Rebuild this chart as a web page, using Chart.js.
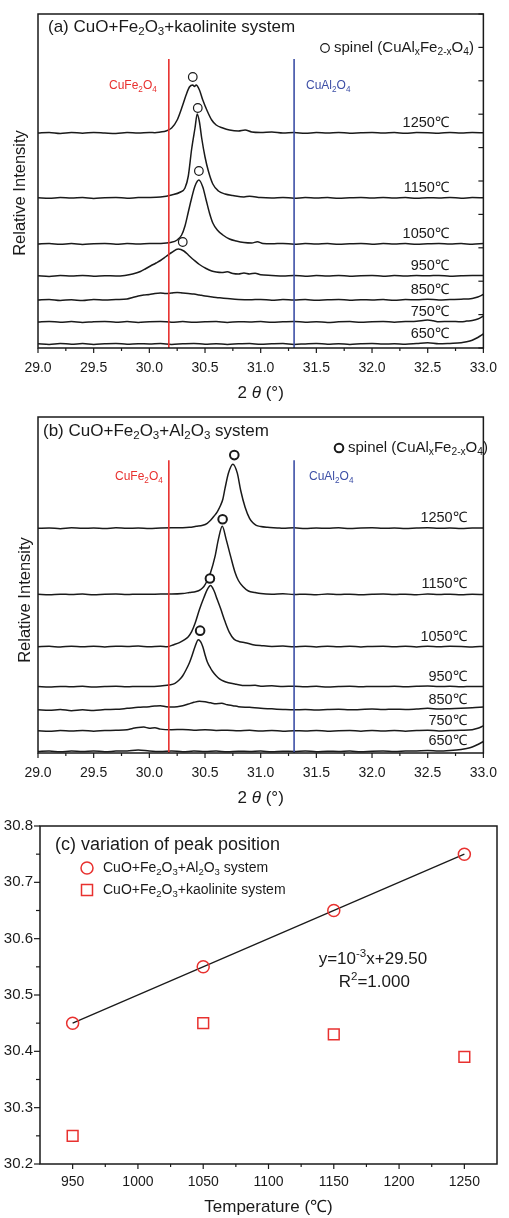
<!DOCTYPE html>
<html>
<head>
<meta charset="utf-8">
<script src="https://cdn.jsdelivr.net/npm/chart.js@4.4.1/dist/chart.umd.min.js"></script>
<style>
html, body { margin: 0; padding: 0; background: #fff; }
#wrap { position: relative; width: 509px; height: 1218px; overflow: hidden; }
canvas { position: absolute; left: 0; }
</style>
</head>
<body>
<div id="wrap">
  <canvas id="chartA" width="509" height="405" style="top:0"></canvas>
  <canvas id="chartB" width="509" height="405" style="top:405px"></canvas>
  <canvas id="chartC" width="509" height="408" style="top:810px"></canvas>
</div>
<script>
// ---- data ----
var temps = ['650', '750', '850', '950', '1050', '1150', '1250'];
// stacking offset of each pattern (same order as temps)
var offsetA = [4, 26, 48, 72, 104, 150, 215];
var offsetB = [1.5, 22, 43, 66, 106, 158, 224];
var refCuFe2O4 = 30.175;
var refCuAl2O4 = 31.30;
var thetaTicks = [29.0, 29.5, 30.0, 30.5, 31.0, 31.5, 32.0, 32.5, 33.0];

// (a) CuO+Fe2O3+kaolinite, [2theta, intensity]
var a650 = [[29.0,0.3],[29.1,-0.4],[29.2,0.5],[29.3,-0.2],[29.4,0.4],[29.5,-0.5],[29.6,0.2],[29.7,0.6],[29.8,-0.3],[29.9,0.3],[30.0,0],[30.1,0.5],[30.2,-0.4],[30.3,0.2],[30.4,0.6],[30.5,-0.2],[30.6,0.3],[30.7,-0.4],[30.8,0.2],[30.9,0.5],[31.0,-0.3],[31.1,0.2],[31.2,0.5],[31.3,-0.4],[31.4,0.1],[31.5,0.5],[31.6,-0.2],[31.7,0.3],[31.8,-0.5],[31.9,0.2],[32.0,0.6],[32.1,-0.1],[32.2,0.3],[32.3,-0.3],[32.4,0.4],[32.5,1.2],[32.6,0.2],[32.7,0.6],[32.8,1.2],[32.85,2.2],[32.9,3.8],[32.95,6.5],[33.0,10]];
var a750 = [[29.0,0],[29.1,0.6],[29.2,-0.3],[29.3,0.4],[29.4,-0.5],[29.5,0.3],[29.6,0.5],[29.7,-0.2],[29.8,0.4],[29.9,-0.4],[30.0,0.3],[30.1,0.6],[30.2,-0.2],[30.3,0.4],[30.4,-0.3],[30.5,0.2],[30.6,0.5],[30.7,-0.4],[30.8,0.3],[30.9,0],[31.0,0.5],[31.1,-0.3],[31.2,0.2],[31.3,0.6],[31.4,-0.2],[31.5,0.3],[31.6,-0.5],[31.7,0.2],[31.8,0.4],[31.9,-0.3],[32.0,0.3],[32.1,0.5],[32.2,-0.2],[32.3,0.4],[32.4,0.8],[32.5,2],[32.55,1.2],[32.6,0.3],[32.7,0.6],[32.8,0.2],[32.85,0.9],[32.9,1.5],[32.95,3],[33.0,6]];
var a850 = [[29.0,0],[29.1,0.5],[29.2,-0.5],[29.3,0.3],[29.4,-0.6],[29.5,0.4],[29.6,0],[29.7,0.5],[29.8,1],[29.85,2.5],[29.9,4],[29.95,5],[30.0,5.5],[30.05,6.5],[30.1,7],[30.15,6.5],[30.2,7],[30.25,7.5],[30.3,7],[30.35,6.5],[30.4,6],[30.45,5],[30.5,4],[30.55,3.2],[30.6,2.5],[30.65,2],[30.7,1.5],[30.8,0.6],[30.9,0.2],[31.0,0.6],[31.1,-0.2],[31.2,0.4],[31.3,0],[31.4,0.5],[31.5,-0.3],[31.6,0.3],[31.7,0.6],[31.8,-0.2],[31.9,0.3],[32.0,0],[32.1,0.5],[32.2,-0.3],[32.3,0.4],[32.4,0.2],[32.5,0.8],[32.6,0.1],[32.7,0.5],[32.8,0.8],[32.9,1.6],[32.95,3],[33.0,5.5]];
var a950 = [[29.0,0.2],[29.1,-0.4],[29.2,0.5],[29.3,0],[29.4,0.6],[29.5,-0.3],[29.6,0.3],[29.7,0],[29.78,0.6],[29.85,2],[29.92,4.5],[29.97,7.5],[30.01,10],[30.06,13],[30.1,15.5],[30.15,19.5],[30.2,23.5],[30.26,27],[30.31,25],[30.35,21],[30.4,16],[30.45,11.5],[30.51,7.5],[30.56,5],[30.6,4],[30.65,3.5],[30.7,4.2],[30.75,2.5],[30.8,2],[30.85,3],[30.9,2],[30.95,2.8],[31.0,1.2],[31.1,0.6],[31.2,0],[31.3,0.5],[31.4,-0.2],[31.5,0.4],[31.6,0],[31.7,0.6],[31.8,-0.3],[31.9,0.3],[32.0,0.5],[32.1,-0.2],[32.2,0.4],[32.3,0],[32.4,0.5],[32.5,0.2],[32.6,0.6],[32.7,-0.2],[32.8,0.3],[32.9,0.6],[33.0,0.4]];
var a1050 = [[29.0,0],[29.1,0.5],[29.2,-0.3],[29.3,0.4],[29.4,-0.4],[29.5,0.3],[29.6,0.6],[29.7,-0.2],[29.8,0.4],[29.9,0],[30.0,0.5],[30.1,0.6],[30.19,1.5],[30.25,4],[30.29,9],[30.32,18],[30.35,32],[30.38,46],[30.41,58],[30.445,64],[30.48,57],[30.51,44],[30.54,31],[30.57,21],[30.61,14],[30.66,9],[30.72,5],[30.78,3],[30.85,1.5],[30.92,1],[30.97,2.2],[31.02,0.5],[31.1,0.2],[31.2,0.6],[31.3,-0.2],[31.4,0.4],[31.5,0],[31.6,0.5],[31.7,-0.3],[31.8,0.3],[31.9,0.6],[32.0,-0.2],[32.1,0.4],[32.2,0],[32.3,0.5],[32.4,-0.3],[32.5,0.3],[32.6,0.6],[32.7,0],[32.8,0.4],[32.9,-0.2],[33.0,0.5]];
var a1150 = [[29.0,0.3],[29.1,-0.3],[29.2,0.5],[29.3,0],[29.4,0.4],[29.5,-0.4],[29.6,0.3],[29.7,0.5],[29.8,-0.2],[29.9,0.4],[30.0,0.5],[30.1,1],[30.2,3],[30.28,6],[30.32,10],[30.35,22],[30.38,49],[30.41,70],[30.43,84],[30.45,76],[30.47,60],[30.5,41],[30.53,27],[30.57,14],[30.62,7],[30.68,4],[30.75,2.5],[30.85,1],[30.9,1.8],[31.0,0.4],[31.1,0],[31.2,0.5],[31.3,-0.2],[31.4,0.4],[31.5,0],[31.6,0.5],[31.7,-0.3],[31.8,0.3],[31.9,0.6],[32.0,-0.1],[32.1,0.4],[32.2,0],[32.3,0.5],[32.4,-0.3],[32.5,0.3],[32.6,0],[32.7,0.5],[32.8,-0.2],[32.9,0.4],[33.0,0.2]];
var a1250 = [[29.0,0],[29.1,0.6],[29.2,-0.4],[29.3,0.5],[29.4,-0.2],[29.5,0.6],[29.6,0],[29.7,-0.5],[29.8,0.4],[29.9,0],[30.0,0.6],[30.05,0.3],[30.1,1],[30.15,2],[30.2,5],[30.25,13],[30.3,28],[30.33,38],[30.36,46],[30.39,48],[30.405,46.5],[30.42,48],[30.45,43],[30.48,33],[30.52,22],[30.56,13],[30.6,8],[30.66,5],[30.72,3],[30.8,2],[30.86,3],[30.92,1],[31.0,0.5],[31.1,1],[31.2,0],[31.3,0.4],[31.4,-0.3],[31.5,0.5],[31.6,0],[31.7,0.6],[31.8,-0.2],[31.9,0.3],[32.0,0.6],[32.1,0],[32.2,0.5],[32.3,-0.3],[32.4,0.4],[32.5,0.2],[32.6,-0.2],[32.7,0.5],[32.8,0],[32.9,0.4],[33.0,0.2]];
var peaksA = [[30.30, 106], [30.445, 177], [30.435, 240], [30.39, 271]];

// (b) CuO+Fe2O3+Al2O3
var b650 = [[29.0,0],[29.1,0.5],[29.2,-0.3],[29.3,0.4],[29.4,0],[29.5,0.5],[29.6,-0.2],[29.7,0.4],[29.8,0.6],[29.9,1.5],[30.0,0.5],[30.1,0],[30.2,0.5],[30.3,-0.2],[30.4,0.4],[30.5,0],[30.6,0.5],[30.7,-0.3],[30.8,0.3],[30.9,0],[31.0,0.4],[31.1,-0.2],[31.2,0.3],[31.3,0],[31.4,0.5],[31.5,-0.2],[31.6,0.3],[31.7,0],[31.8,0.4],[31.9,-0.2],[32.0,0.3],[32.1,0.5],[32.2,0],[32.3,0.4],[32.4,0.6],[32.5,1],[32.6,0.5],[32.7,1],[32.8,2],[32.85,3],[32.9,4.5],[32.95,7],[33.0,10]];
var b750 = [[29.0,0.3],[29.1,-0.3],[29.2,0.4],[29.3,0],[29.4,0.5],[29.5,-0.2],[29.6,0.4],[29.7,0.6],[29.8,1.2],[29.85,2.5],[29.9,3.5],[29.95,3.8],[30.0,2.8],[30.05,3.2],[30.1,1.8],[30.2,1.2],[30.3,1.5],[30.4,0.8],[30.5,1.2],[30.6,0.5],[30.7,0.8],[30.8,0.2],[30.9,0.6],[31.0,0],[31.1,0.4],[31.2,-0.2],[31.3,0.3],[31.4,0],[31.5,0.5],[31.6,-0.3],[31.7,0.3],[31.8,0.5],[31.9,-0.2],[32.0,0.4],[32.1,0],[32.2,0.5],[32.3,-0.2],[32.4,0.4],[32.5,0.8],[32.6,0],[32.7,0.4],[32.8,0.6],[32.9,1.2],[32.95,2.6],[33.0,5]];
var b850 = [[29.0,0],[29.1,-0.5],[29.2,0.4],[29.3,-0.8],[29.4,0],[29.5,-0.6],[29.6,0.3],[29.7,0.6],[29.8,1.5],[29.9,2.5],[30.0,3.2],[30.05,3.8],[30.1,4.2],[30.15,3.2],[30.2,2.8],[30.25,3.2],[30.3,4.2],[30.35,5.8],[30.4,7.5],[30.45,8.5],[30.5,8],[30.55,7],[30.6,6.2],[30.65,6.5],[30.7,5],[30.75,4.2],[30.8,3.2],[30.9,2.5],[31.0,1.5],[31.1,1],[31.2,0.4],[31.3,0],[31.4,0.4],[31.5,-0.2],[31.6,0.3],[31.7,0.6],[31.8,0],[31.9,0.4],[32.0,0.8],[32.1,0.3],[32.2,0.7],[32.3,0.4],[32.4,0.9],[32.5,1.6],[32.6,0.8],[32.7,1.2],[32.8,1.5],[32.9,2],[33.0,2.8]];
var b950 = [[29.0,0.2],[29.1,-0.3],[29.2,0.4],[29.3,0],[29.4,0.5],[29.5,-0.2],[29.6,0.3],[29.7,0.6],[29.8,0],[29.9,0.4],[30.0,0.2],[30.1,0.8],[30.19,2],[30.23,3.5],[30.27,7],[30.3,11],[30.33,17],[30.36,24],[30.38,30],[30.41,40],[30.44,47],[30.46,45],[30.48,40],[30.5,32],[30.52,25],[30.55,18.5],[30.57,15],[30.6,11],[30.63,8],[30.67,5.5],[30.71,4],[30.78,2.5],[30.86,1.2],[30.95,1.5],[31.0,0.6],[31.1,1],[31.2,0.3],[31.3,0.6],[31.4,0],[31.5,0.5],[31.6,-0.2],[31.7,0.3],[31.8,0.6],[31.9,0],[32.0,0.4],[32.1,0.2],[32.2,0.6],[32.3,0],[32.4,0.5],[32.5,0.8],[32.6,0.2],[32.7,0.5],[32.8,0],[32.9,0.4],[33.0,0.3]];
var b1050 = [[29.0,0],[29.1,0.4],[29.2,-0.3],[29.3,0.5],[29.4,0],[29.5,0.4],[29.6,-0.2],[29.7,0.5],[29.8,0.2],[29.9,0.6],[30.0,0],[30.1,0.4],[30.16,0],[30.22,2],[30.27,4],[30.31,6.5],[30.35,10],[30.38,15],[30.41,23],[30.45,37],[30.49,49],[30.52,57],[30.55,61],[30.58,56],[30.61,47],[30.64,38],[30.68,25],[30.72,14],[30.76,7.5],[30.81,5],[30.86,4],[30.93,2],[31.01,1],[31.1,0.3],[31.2,0.6],[31.3,0],[31.4,0.4],[31.5,-0.2],[31.6,0.5],[31.7,0],[31.8,0.4],[31.9,-0.2],[32.0,0.3],[32.1,0.5],[32.2,0],[32.3,0.4],[32.4,-0.2],[32.5,0.5],[32.6,0],[32.7,0.4],[32.8,0.2],[32.9,-0.2],[33.0,0.3]];
var b1150 = [[29.0,0.3],[29.1,-0.2],[29.2,0.4],[29.3,0],[29.4,0.5],[29.5,-0.3],[29.6,0.3],[29.7,0.5],[29.8,0],[29.9,0.4],[30.0,0.2],[30.1,0.6],[30.2,0.5],[30.3,1],[30.36,2],[30.42,3],[30.46,5],[30.49,8],[30.52,14],[30.55,22],[30.59,38],[30.62,55],[30.655,68],[30.69,55],[30.73,38],[30.77,22],[30.8,14],[30.84,8],[30.89,3.5],[30.95,2],[31.0,1],[31.1,0.4],[31.2,0.8],[31.3,0],[31.4,0.4],[31.5,-0.2],[31.6,0.5],[31.7,0],[31.8,0.4],[31.9,-0.2],[32.0,0.3],[32.1,0.6],[32.2,0],[32.3,0.4],[32.4,-0.2],[32.5,0.5],[32.6,0],[32.7,0.4],[32.8,-0.2],[32.9,0.3],[33.0,0]];
var b1250 = [[29.0,0],[29.1,0.4],[29.2,-0.3],[29.3,0.5],[29.4,0],[29.5,0.4],[29.6,-0.2],[29.7,0.5],[29.8,0],[29.9,0.4],[30.0,-0.2],[30.1,0.3],[30.2,0.5],[30.3,0.6],[30.36,1],[30.42,2],[30.48,3],[30.52,5],[30.55,8],[30.58,12],[30.61,16.5],[30.64,23],[30.66,29],[30.68,40],[30.71,55],[30.75,64],[30.79,55],[30.82,38],[30.86,21],[30.9,10],[30.93,5.5],[30.96,3],[31.0,1.8],[31.06,1],[31.15,0.4],[31.2,0],[31.3,0.5],[31.4,-0.2],[31.5,0.4],[31.6,0],[31.7,0.5],[31.8,-0.2],[31.9,0.3],[32.0,0.5],[32.1,0],[32.2,0.4],[32.3,-0.2],[32.4,0.3],[32.5,0.6],[32.6,0],[32.7,0.4],[32.8,-0.2],[32.9,0.3],[33.0,0.4]];
var peaksB = [[30.456, 122], [30.544, 174], [30.658, 233], [30.763, 297]];

// (c) variation of peak position
var tempC = [950, 1050, 1150, 1250];
var peakAl2O3 = [30.45, 30.55, 30.65, 30.75];
var peakKaolinite = [30.25, 30.45, 30.43, 30.39];
var fitX = [950, 1250];
var fitY = [30.45, 30.75];
var tempTicks = [950, 1000, 1050, 1100, 1150, 1200, 1250];

// ---- drawing ----
var F = '"Liberation Sans", Arial, Helvetica, sans-serif';
var RED = '#e8312f';
var BLUE = '#3d4fa6';
var INK = '#1a1a1a';

// draw text with _sub, ^sup and %italic parts
function rich(ctx, str, x, y, size, opt) {
  opt = opt || {};
  var segs = [], i = 0;
  while (i < str.length) {
    var c = str[i];
    if ((c === '_' || c === '^' || c === '%') && i + 1 < str.length) {
      var t;
      if (str[i + 1] === '{') { var j = str.indexOf('}', i + 2); t = str.slice(i + 2, j); i = j + 1; }
      else { t = str[i + 1]; i += 2; }
      segs.push({ t: t, k: c });
    } else {
      var last = segs[segs.length - 1];
      if (last && last.k === 'n') last.t += c; else segs.push({ t: c, k: 'n' });
      i++;
    }
  }
  function fontOf(s) {
    var small = s.k === '_' || s.k === '^';
    return (s.k === '%' ? 'italic ' : '') + (small ? size * 0.68 : size) + 'px ' + F;
  }
  var w = 0;
  segs.forEach(function (s) { ctx.font = fontOf(s); s.w = ctx.measureText(s.t).width; w += s.w; });
  var cx = opt.align === 'center' ? x - w / 2 : (opt.align === 'right' ? x - w : x);
  ctx.save();
  ctx.fillStyle = opt.color || INK;
  ctx.textBaseline = 'middle';
  ctx.textAlign = 'left';
  segs.forEach(function (s) {
    ctx.font = fontOf(s);
    var dy = s.k === '_' ? size * 0.28 : (s.k === '^' ? -size * 0.36 : 0);
    ctx.fillText(s.t, cx, y + dy);
    cx += s.w;
  });
  ctx.restore();
}

function ring(ctx, x, y, r, lw) {
  ctx.save();
  ctx.beginPath();
  ctx.arc(x, y, r, 0, Math.PI * 2);
  ctx.lineWidth = lw;
  ctx.strokeStyle = INK;
  ctx.stroke();
  ctx.restore();
}

function seg(ctx, x1, y1, x2, y2) {
  ctx.beginPath();
  ctx.moveTo(x1, y1);
  ctx.lineTo(x2, y2);
  ctx.stroke();
}

// box and tick marks
function frame(opts) {
  return {
    id: 'frame',
    afterDatasetsDraw: function (chart) {
      var ctx = chart.ctx, a = chart.chartArea, x = chart.scales.x, y = chart.scales.y;
      ctx.save();
      ctx.strokeStyle = INK;
      ctx.lineWidth = 1.2;
      var xt = x.ticks.map(function (t) { return t.value; });
      xt.forEach(function (v, i) {
        var px = x.getPixelForValue(v);
        seg(ctx, px, a.bottom, px, a.bottom + 5);
        var step = i < xt.length - 1 ? xt[i + 1] - v : v - xt[i - 1];
        [v - step / 2, v + step / 2].forEach(function (m) {
          if (m > x.min && m < x.max && (i === 0 || m > v)) {
            var pm = x.getPixelForValue(m);
            seg(ctx, pm, a.bottom, pm, a.bottom + 3);
          }
        });
      });
      if (opts.leftTicks) {
        var yt = y.ticks.map(function (t) { return t.value; });
        yt.forEach(function (v, i) {
          var py = y.getPixelForValue(v);
          seg(ctx, a.left - 6, py, a.left, py);
          if (i < yt.length - 1) {
            var pm = y.getPixelForValue((v + yt[i + 1]) / 2);
            seg(ctx, a.left - 4, pm, a.left, pm);
          }
        });
      }
      if (opts.rightTicks) {
        y.ticks.forEach(function (t) {
          var py = y.getPixelForValue(t.value);
          seg(ctx, a.right - 5, py, a.right, py);
        });
      }
      ctx.lineWidth = 1.5;
      ctx.strokeRect(a.left, a.top, a.right - a.left, a.bottom - a.top);
      ctx.restore();
    }
  };
}

function xrdConfig(curves, offsets, peaks, yMax, refTop, rightTicks, text) {
  var ds = [];
  ds.push({
    data: peaks.map(function (p) { return { x: p[0], y: p[1] }; }),
    showLine: false, pointRadius: 4.3, pointBorderWidth: text.ringWidth,
    pointBorderColor: INK, pointBackgroundColor: '#fff'
  });
  [[refCuFe2O4, RED], [refCuAl2O4, BLUE]].forEach(function (r) {
    ds.push({
      data: [{ x: r[0], y: 0 }, { x: r[0], y: refTop }],
      showLine: true, borderColor: r[1], borderWidth: 1.6, pointRadius: 0
    });
  });
  curves.forEach(function (c, i) {
    ds.push({
      data: c.map(function (p) { return { x: p[0], y: p[1] + offsets[i] }; }),
      showLine: true, borderColor: INK, borderWidth: 1.5, pointRadius: 0,
      cubicInterpolationMode: 'monotone'
    });
  });
  return {
    type: 'scatter',
    data: { datasets: ds },
    options: {
      responsive: false, animation: false, devicePixelRatio: 1,
      layout: { padding: { left: 38, right: 15, top: text.top, bottom: 0 } },
      plugins: { legend: { display: false }, tooltip: { enabled: false } },
      scales: {
        x: {
          type: 'linear', min: 29, max: 33,
          afterFit: function (s) { s.height = 57; },
          afterBuildTicks: function (s) { s.ticks = thetaTicks.map(function (v) { return { value: v }; }); },
          grid: { display: false, drawTicks: false }, border: { display: false },
          ticks: { padding: 12, color: INK, font: { size: 14, family: F }, maxRotation: 0, autoSkip: false,
            callback: function (v) { return v.toFixed(1); } }
        },
        y: {
          type: 'linear', position: 'right', min: 0, max: yMax,
          afterFit: function (s) { s.width = 0; },
          grid: { display: false, drawTicks: false }, border: { display: false },
          ticks: { display: false, stepSize: yMax / 10 }
        }
      }
    },
    plugins: [frame({ rightTicks: rightTicks }), {
      id: 'annot',
      afterDraw: function (chart) {
        var ctx = chart.ctx, x = chart.scales.x, y = chart.scales.y;
        rich(ctx, text.title, text.titleX, text.titleY, 17);
        ring(ctx, text.spinelX, text.spinelY, 4.3, text.ringWidth);
        rich(ctx, 'spinel (CuAl_xFe_{2-x}O_4)', text.spinelX + 9, text.spinelY, 15);
        rich(ctx, 'CuFe_2O_4', text.refLeft[0], text.refY, 12, { color: RED });
        rich(ctx, 'CuAl_2O_4', text.refLeft[1], text.refY, 12, { color: BLUE });
        temps.forEach(function (t, i) {
          rich(ctx, t + '℃', x.getPixelForValue(text.labelTheta), y.getPixelForValue(offsets[i] + 10), 14.5, { align: 'right' });
        });
        ctx.save();
        ctx.translate(text.yTitleX, text.yTitleY);
        ctx.rotate(-Math.PI / 2);
        rich(ctx, 'Relative Intensity', 0, 0, 16.5, { align: 'center' });
        ctx.restore();
        var a = chart.chartArea;
        rich(ctx, '2 %θ (°)', (a.left + a.right) / 2, chart.height - 12, 17, { align: 'center' });
      }
    }]
  };
}

new Chart(document.getElementById('chartA'), xrdConfig(
  [a650, a750, a850, a950, a1050, a1150, a1250], offsetA, peaksA, 334, 289, true,
  { top: 14, title: '(a) CuO+Fe_2O_3+kaolinite system', titleX: 48, titleY: 27,
    spinelX: 325, spinelY: 48, ringWidth: 1.2, refLeft: [109, 306], refY: 86,
    labelTheta: 32.69, yTitleX: 20, yTitleY: 193 }
));

new Chart(document.getElementById('chartB'), xrdConfig(
  [b650, b750, b850, b950, b1050, b1150, b1250], offsetB, peaksB, 335, 292, false,
  { top: 12, title: '(b) CuO+Fe_2O_3+Al_2O_3 system', titleX: 43, titleY: 26,
    spinelX: 339, spinelY: 43, ringWidth: 2, refLeft: [115, 309], refY: 72,
    labelTheta: 32.85, yTitleX: 25, yTitleY: 195 }
));

new Chart(document.getElementById('chartC'), {
  type: 'scatter',
  data: {
    datasets: [
      {
        data: tempC.map(function (t, i) { return { x: t, y: peakAl2O3[i] }; }),
        pointStyle: 'circle', pointRadius: 6, pointBorderWidth: 1.5,
        pointBorderColor: RED, pointBackgroundColor: 'rgba(0,0,0,0)'
      },
      {
        data: tempC.map(function (t, i) { return { x: t, y: peakKaolinite[i] }; }),
        pointStyle: 'rect', pointRadius: 7.6, pointBorderWidth: 1.5,
        pointBorderColor: RED, pointBackgroundColor: 'rgba(0,0,0,0)'
      },
      {
        data: fitX.map(function (t, i) { return { x: t, y: fitY[i] }; }),
        showLine: true, borderColor: INK, borderWidth: 1.3, pointRadius: 0
      }
    ]
  },
  options: {
    responsive: false, animation: false, devicePixelRatio: 1,
    layout: { padding: { left: 0, right: 12, top: 15, bottom: 0 } },
    plugins: { legend: { display: false }, tooltip: { enabled: false } },
    scales: {
      x: {
        type: 'linear', min: 925, max: 1275,
        afterFit: function (s) { s.height = 54; },
        afterBuildTicks: function (s) { s.ticks = tempTicks.map(function (v) { return { value: v }; }); },
        grid: { display: false, drawTicks: false }, border: { display: false },
        ticks: { padding: 10, color: INK, font: { size: 14, family: F }, maxRotation: 0, autoSkip: false,
          callback: function (v) { return String(v); } },
        title: { display: true, text: 'Temperature (℃)', color: INK, font: { size: 17, family: F }, padding: { top: 0, bottom: 0 } }
      },
      y: {
        type: 'linear', position: 'left', min: 30.2, max: 30.8,
        afterFit: function (s) { s.width = 40; },
        grid: { display: false, drawTicks: false }, border: { display: false },
        ticks: { stepSize: 0.1, padding: 7, color: INK, font: { size: 15, family: F },
          callback: function (v) { return v.toFixed(1); } }
      }
    }
  },
  plugins: [frame({ leftTicks: true }), {
    id: 'annotC',
    afterDraw: function (chart) {
      var ctx = chart.ctx, x = chart.scales.x, y = chart.scales.y;
      rich(ctx, '(c) variation of peak position', 55, 35, 18);
      ctx.save();
      ctx.strokeStyle = RED;
      ctx.lineWidth = 1.5;
      ctx.beginPath(); ctx.arc(87, 58, 6, 0, Math.PI * 2); ctx.stroke();
      ctx.strokeRect(81.5, 74.5, 11, 11);
      ctx.restore();
      rich(ctx, 'CuO+Fe_2O_3+Al_2O_3 system', 103, 58, 14);
      rich(ctx, 'CuO+Fe_2O_3+kaolinite system', 103, 80, 14);
      rich(ctx, 'y=10^{-3}x+29.50', x.getPixelForValue(1180), y.getPixelForValue(30.563), 17, { align: 'center' });
      rich(ctx, 'R^2=1.000', x.getPixelForValue(1181), y.getPixelForValue(30.522), 17, { align: 'center' });
    }
  }]
});
</script>
</body>
</html>
